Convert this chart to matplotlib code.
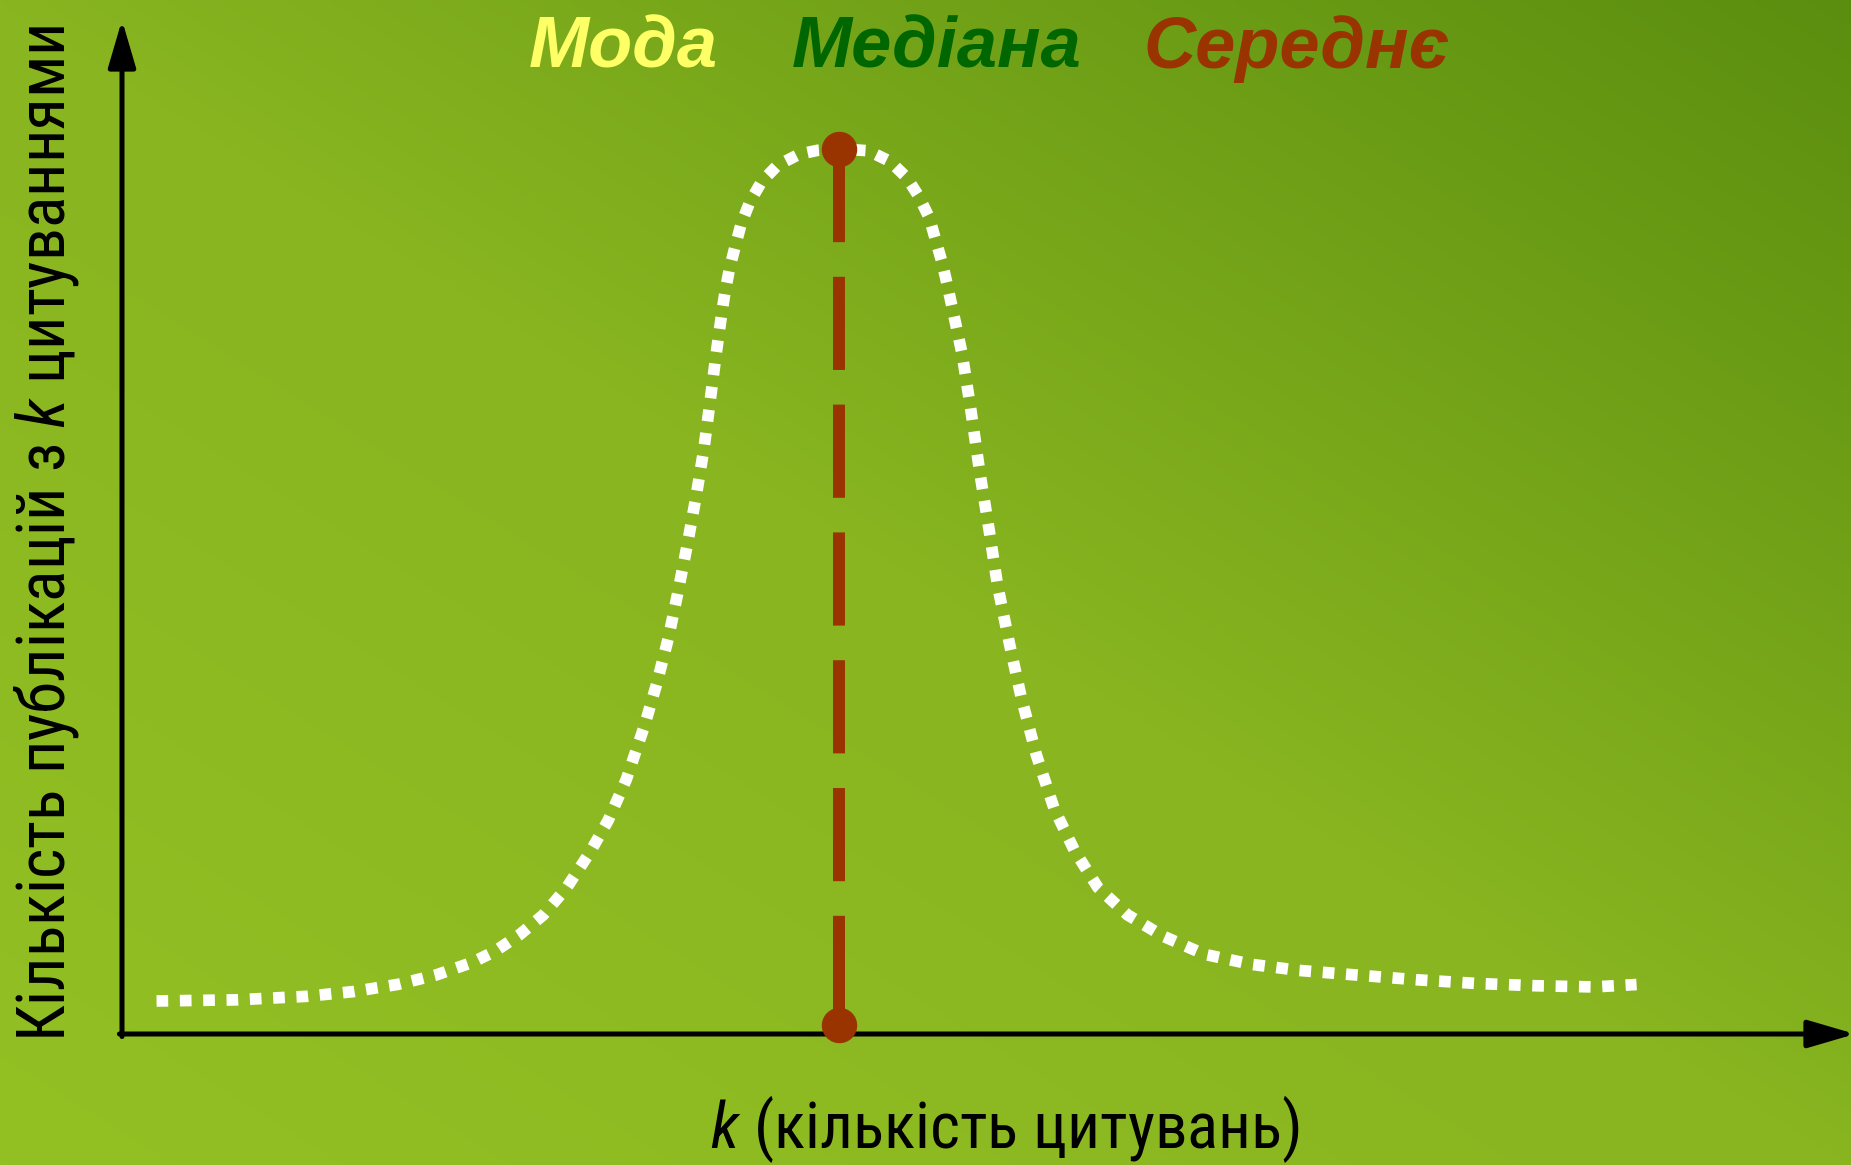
import matplotlib
matplotlib.use("Agg")
import matplotlib.pyplot as plt
import numpy as np
from matplotlib import font_manager

# citation count k (axis units 0..100) and number of publications with k citations
k = [2.0, 6.6, 10.7, 13.4, 16.0, 18.2, 20.3, 21.6, 23.0, 24.4, 25.75, 27.1,
     28.15, 29.2, 30.25, 30.95, 31.65, 32.15, 32.75, 33.25, 33.7, 34.05, 34.4,
     34.7, 34.92, 35.17, 35.5, 35.85, 36.36, 37.04, 37.95, 39.2, 40.3, 41.5,
     43.21, 44.47, 45.44, 46.15, 46.75, 47.13, 47.5, 47.81, 48.25, 48.65, 49.13,
     49.67, 50.22, 50.69, 51.38, 52.06, 52.95, 53.98, 55.14, 56.51, 58.22,
     60.27, 62.66, 65.39, 68.13, 71.55, 74.96, 78.38, 81.8, 85.22, 87.7]
n = [3.27, 3.38, 3.73, 4.2, 4.92, 5.85, 7.1, 8.2, 9.8, 11.8, 14.5, 18.0,
     21.15, 25.2, 30.5, 34.6, 39.3, 43.4, 48.6, 53.3, 58.0, 62.6, 67.3,
     71.0, 73.5, 75.7, 77.95, 80.2, 82.4, 84.4, 86.0, 87.1, 87.5, 87.65,
     87.45, 86.4, 84.8, 82.9, 80.8, 78.5, 76.3, 74.0, 70.5, 67.3, 62.05,
     55.6, 49.8, 44.5, 38.7, 33.4, 27.6, 22.3, 18.2, 14.5, 11.8,
     9.7, 7.9, 6.9, 6.3, 5.83, 5.37, 5.01, 4.78, 4.66, 4.9]

# mode, median and mean coincide for a symmetric distribution
center_k = 41.5
stem_bottom = 0.9

titles = ["Мода", "Медіана", "Середнє"]
title_colors = ["#ffff66", "#006600", "#993300"]
title_x = [623, 937, 1297]

xlabel = r"$\mathit{k}$ (кількість цитувань)"
ylabel = r"Кількість публікацій з $\mathit{k}$ цитуваннями"

W, H, DPI = 1851, 1165, 100

names = {f.name for f in font_manager.fontManager.ttflist}
narrow = next((f for f in ["Liberation Sans Narrow", "Roboto Condensed",
                           "Open Sans Condensed", "Noto Sans Condensed"]
               if f in names), "Liberation Sans")
plt.rcParams["mathtext.fontset"] = "custom"
plt.rcParams["mathtext.it"] = f"{narrow}:italic"
plt.rcParams["mathtext.rm"] = narrow

fig = plt.figure(figsize=(W / DPI, H / DPI), dpi=DPI)

# diagonal green gradient, darkest in the top-right corner
bg = fig.add_axes([0, 0, 1, 1])
bg.set_axis_off()
yy, xx = np.mgrid[0:1:233j, 0:1:370j]
t = ((1 - xx) + yy) / 2
stops = [0.0, 0.5, 1.0]
rgb = np.array([[0x5b, 0x8e, 0x0f], [0x88, 0xb5, 0x20], [0x93, 0xc0, 0x23]]) / 255
img = np.dstack([np.interp(t, stops, rgb[:, c]) for c in range(3)])
bg.imshow(img, extent=[0, 1, 0, 1], aspect="auto", origin="upper",
          interpolation="bilinear")
bg.set_xlim(0, 1)
bg.set_ylim(0, 1)

ax = fig.add_axes([122 / W, (H - 1034) / H, 1727 / W, 1010 / H])
ax.set_xlim(0, 100)
ax.set_ylim(0, 100)
ax.set_axis_off()
ax.patch.set_alpha(0)

arrow = dict(arrowstyle="-|>,head_length=2.9,head_width=0.85", color="black",
             lw=3.6, shrinkA=0, shrinkB=0, mutation_scale=10)
ax.annotate("", xy=(100.35, 0), xytext=(-0.15, 0), arrowprops=arrow,
            annotation_clip=False, zorder=2)
ax.annotate("", xy=(0, 100.4), xytext=(0, -0.25), arrowprops=arrow,
            annotation_clip=False, zorder=2)

ax.plot(k, n, color="white", lw=8.4, linestyle=(0, (1, 1)),
        dash_capstyle="butt", solid_joinstyle="round", clip_on=False, zorder=3)

peak = max(n)
ax.plot([center_k, center_k], [peak, stem_bottom], color="#993300", lw=8.6,
        linestyle=(0, (7.8, 2.9)), dash_capstyle="butt", clip_on=False, zorder=4)
ax.plot([center_k, center_k], [peak, stem_bottom], "o", color="#993300",
        markersize=24.5, clip_on=False, zorder=5)

for label, color, x in zip(titles, title_colors, title_x):
    fig.text(x / W, 1 - 68 / H, label, color=color, fontsize=52,
             family="Liberation Sans", weight="bold", style="italic",
             ha="center", va="baseline")

xt = fig.text(1005 / W, 1 - 1148 / H, xlabel, family=narrow, fontsize=50,
              ha="center", va="baseline", color="black")
yt = fig.text(47 / W, 1 - 533 / H, ylabel, family=narrow, fontsize=52,
              rotation=90, ha="center", va="center", color="black")

# scale the axis labels to the lengths they occupy on the canvas
fig.canvas.draw()
r = fig.canvas.get_renderer()
bb = xt.get_window_extent(r)
xt.set_fontsize(xt.get_fontsize() * 590 / bb.width)
bb = yt.get_window_extent(r)
yt.set_fontsize(yt.get_fontsize() * 1018 / bb.height)

fig.savefig("out.png", dpi=DPI)
